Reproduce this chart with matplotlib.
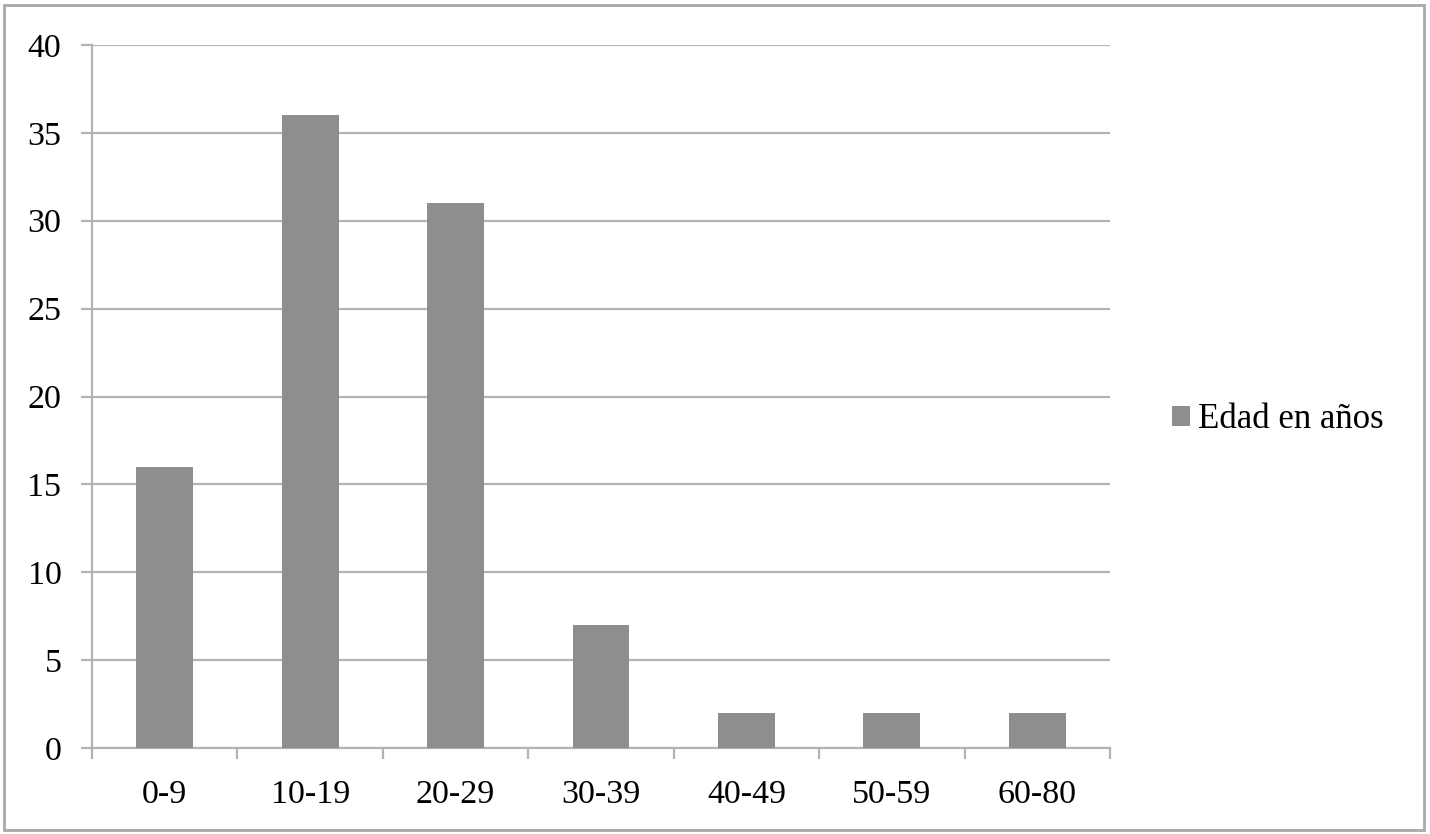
import matplotlib.pyplot as plt
from matplotlib.patches import Rectangle
import numpy as np

plt.rcParams['font.family'] = ['Liberation Serif', 'DejaVu Serif']

categories = ['0-9', '10-19', '20-29', '30-39', '40-49', '50-59', '60-80']
values = [16, 36, 31, 7, 2, 2, 2]
series_name = 'Edad en años'

bar_color = '#8e8e8e'
grid_color = '#b3b3b3'

fig = plt.figure(figsize=(14.3, 8.34), dpi=100)
ax = fig.add_axes([92 / 1430, 1 - 748 / 834, (1110 - 92) / 1430, (748 - 45) / 834])

x = np.arange(len(categories))
ax.bar(x, values, width=0.39, color=bar_color, label=series_name, zorder=3)

ax.set_xlim(-0.5, len(categories) - 0.5)
ax.set_ylim(0, 40)
ax.set_yticks(np.arange(0, 41, 5))
ax.yaxis.grid(True, color=grid_color, linewidth=1.6, zorder=0)

# category labels in the middle, tick marks between categories
ax.set_xticks(x)
ax.set_xticklabels(categories, fontsize=24.5)
ax.tick_params(axis='x', which='major', length=0, pad=23)
ax.set_xticks(np.arange(-0.5, len(categories)), minor=True)
ax.tick_params(axis='x', which='minor', length=8, width=1.6, color=grid_color)
ax.tick_params(axis='y', length=8, width=1.6, color=grid_color, labelsize=24.5, pad=14)

for side in ['top', 'right']:
    ax.spines[side].set_visible(False)
for side in ['left', 'bottom']:
    ax.spines[side].set_color(grid_color)
    ax.spines[side].set_linewidth(1.6)

fig.legend(loc='center left', bbox_to_anchor=(1141 / 1430, 1 - 420 / 834),
           frameon=False, fontsize=25, handlelength=0.5, handleheight=0.5,
           handletextpad=0.25)

fig.patches.append(Rectangle((4 / 1430, 4 / 834), 1420 / 1430, 825 / 834,
                             transform=fig.transFigure, fill=False,
                             edgecolor='#a8a8a8', linewidth=2))

fig.savefig('out.png', dpi=100)
